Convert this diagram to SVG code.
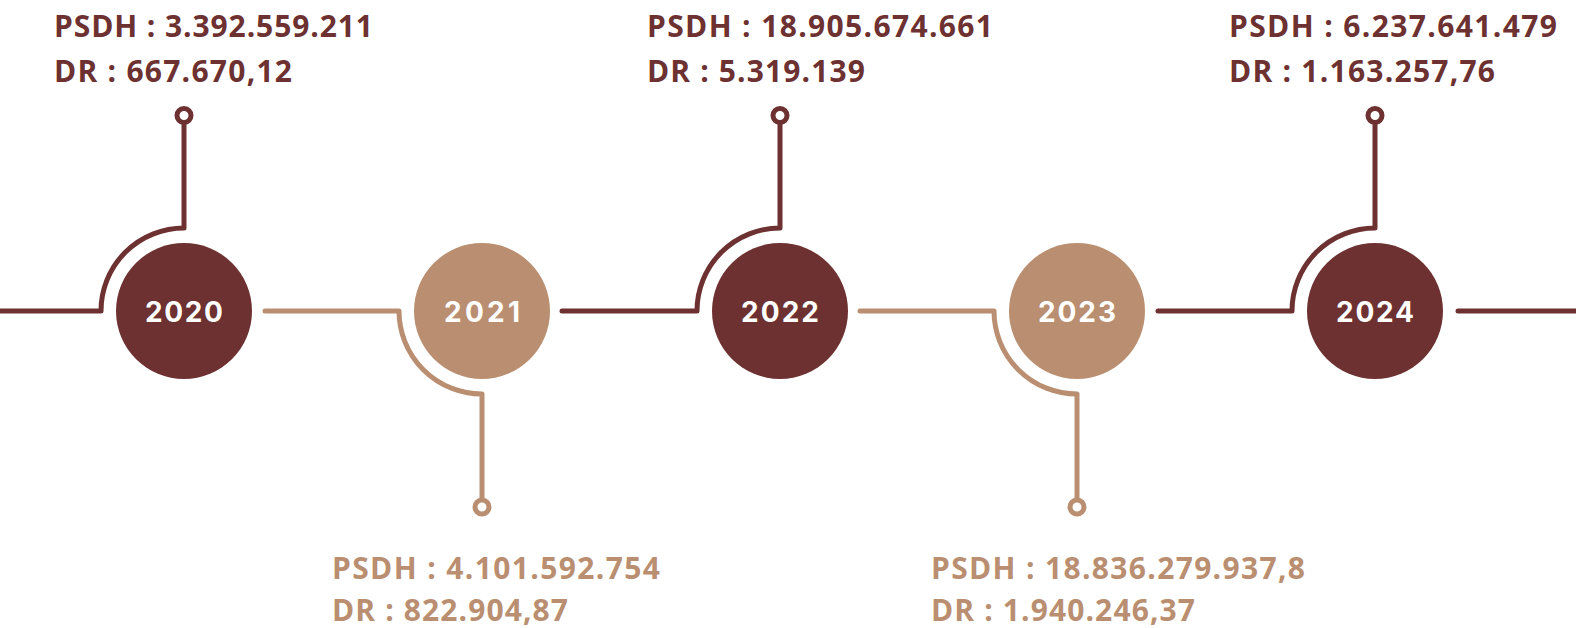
<svg xmlns="http://www.w3.org/2000/svg" width="1576" height="628" viewBox="0 0 1576 628">
<style>
.d{stroke:#6c3130}
.t{stroke:#ba8e70}
.ln{fill:none;stroke-width:5;stroke-linecap:round;stroke-linejoin:round}
.pin{fill:#fff;stroke-width:5}
.lbl{font-family:"Open Sans","Liberation Sans",sans-serif;font-weight:700;font-size:30px}
.ld{fill:#6c3130}
.lt{fill:#ba8e70}
.yr{font-family:Inter,"Open Sans","Liberation Sans",sans-serif;font-weight:700;font-size:28px;fill:#fff;text-anchor:middle}
</style>
<g id="connectors">
<path class="ln d" d="M-5 311 H101 A83 83 0 0 1 184 228 V122"/>
<path class="ln t" d="M265 311 H399 A83 83 0 0 0 482 394 V500"/>
<path class="ln d" d="M562 311 H697 A83 83 0 0 1 780 228 V122"/>
<path class="ln t" d="M860 311 H994 A83 83 0 0 0 1077 394 V500"/>
<path class="ln d" d="M1158 311 H1292 A83 83 0 0 1 1375 228 V122"/>
<path class="ln d" d="M1458 311 H1585"/>
<circle class="pin d" cx="184" cy="115.5" r="7"/>
<circle class="pin t" cx="482" cy="507" r="7"/>
<circle class="pin d" cx="780" cy="115.5" r="7"/>
<circle class="pin t" cx="1077" cy="507" r="7"/>
<circle class="pin d" cx="1375" cy="115.5" r="7"/>
</g>
<g id="node-2020">
<circle cx="184" cy="311" r="68" fill="#6c3130"/>
<text class="yr" x="184" y="322" textLength="78">2020</text>
<text class="lbl ld" x="54" y="37" textLength="319">PSDH : 3.392.559.211</text>
<text class="lbl ld" x="54" y="82" textLength="238">DR : 667.670,12</text>
</g>
<g id="node-2021">
<circle cx="482" cy="311" r="68" fill="#ba8e70"/>
<text class="yr" x="482" y="322" textLength="76">2021</text>
<text class="lbl lt" x="332" y="579" textLength="328">PSDH : 4.101.592.754</text>
<text class="lbl lt" x="332" y="621" textLength="236">DR : 822.904,87</text>
</g>
<g id="node-2022">
<circle cx="780" cy="311" r="68" fill="#6c3130"/>
<text class="yr" x="780" y="322" textLength="78">2022</text>
<text class="lbl ld" x="647" y="37" textLength="346">PSDH : 18.905.674.661</text>
<text class="lbl ld" x="647" y="82" textLength="218">DR : 5.319.139</text>
</g>
<g id="node-2023">
<circle cx="1077" cy="311" r="68" fill="#ba8e70"/>
<text class="yr" x="1077" y="322" textLength="78">2023</text>
<text class="lbl lt" x="931" y="579" textLength="374">PSDH : 18.836.279.937,8</text>
<text class="lbl lt" x="931" y="621" textLength="264">DR : 1.940.246,37</text>
</g>
<g id="node-2024">
<circle cx="1375" cy="311" r="68" fill="#6c3130"/>
<text class="yr" x="1375" y="322" textLength="78">2024</text>
<text class="lbl ld" x="1229" y="37" textLength="328">PSDH : 6.237.641.479</text>
<text class="lbl ld" x="1229" y="82" textLength="266">DR : 1.163.257,76</text>
</g>
</svg>
